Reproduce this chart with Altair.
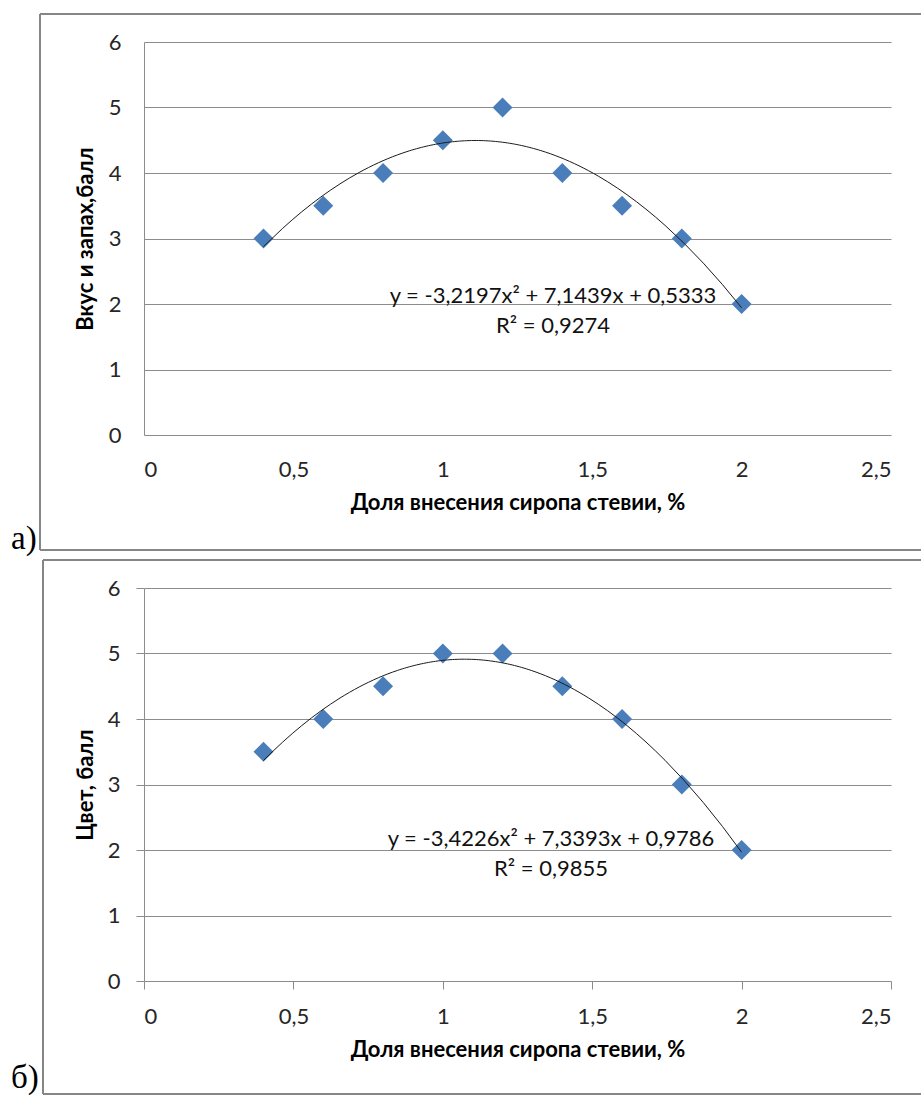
import altair as alt
import pandas as pd

# ---- data ----
X_VALUES = [0.4, 0.6, 0.8, 1.0, 1.2, 1.4, 1.6, 1.8, 2.0]
TASTE = [3, 3.5, 4, 4.5, 5, 4, 3.5, 3, 2]          # panel а)
COLOUR = [3.5, 4, 4.5, 5, 5, 4.5, 4, 3, 2]          # panel б)
X_TICKS = [0, 0.5, 1, 1.5, 2, 2.5]
Y_TICKS = [0, 1, 2, 3, 4, 5, 6]

X_TITLE = "Доля внесения сиропа стевии, %"
Y_TITLE_A = "Вкус и запах,балл"
Y_TITLE_B = "Цвет, балл"
EQ_A = "y = -3,2197x² + 7,1439x + 0,5333"
R2_A = "R² = 0,9274"
EQ_B = "y = -3,4226x² + 7,3393x + 0,9786"
R2_B = "R² = 0,9855"
LABEL_A = "а)"
LABEL_B = "б)"

BLUE = "#4A7EBB"
GRID = "#8C8C8C"
FRAME = "#868686"
FONT = "Lato"
W, H = 747, 393


def panel(yvals, ytitle, eq, r2, label, ticks, frame_left, frame_bottom,
          label_y, eq_x, eq_y):
    df = pd.DataFrame({"x": X_VALUES, "y": yvals})
    base = alt.Chart(df)
    xscale = alt.Scale(domain=[0, 2.5], nice=False, zero=False)
    yscale = alt.Scale(domain=[0, 6], nice=False)
    xaxis = alt.Axis(
        values=X_TICKS,
        labelExpr="replace(toString(datum.value), '.', ',')",
        grid=False, domain=False, ticks=ticks, tickSize=8,
        labelPadding=17 if ticks else 24,
        title=X_TITLE, titlePadding=12,
    )
    yaxis = alt.Axis(
        values=Y_TICKS, grid=True, domain=True, ticks=ticks, tickSize=8,
        labelPadding=16 if ticks else 23,
        title=ytitle, titleX=-47, titleBaseline="bottom",
    )
    pts = base.mark_point(
        shape="diamond", filled=True, size=400, color=BLUE, opacity=1
    ).encode(
        x=alt.X("x:Q", scale=xscale, axis=xaxis),
        y=alt.Y("y:Q", scale=yscale, axis=yaxis),
    )
    trend = base.transform_regression(
        "x", "y", method="poly", order=2, extent=[0.4, 2.0]
    ).mark_line(color="#1a1a1a", strokeWidth=1).encode(
        x=alt.X("x:Q", scale=xscale, axis=xaxis),
        y=alt.Y("y:Q", scale=yscale, axis=yaxis),
    )
    one = alt.Chart(alt.Data(values=[{"k": 1}]))
    eq_t = one.mark_text(
        text=eq, font=FONT, fontSize=22, color="#111", align="center",
        baseline="alphabetic",
    ).encode(x=alt.value(eq_x), y=alt.value(eq_y))
    r2_t = one.mark_text(
        text=r2, font=FONT, fontSize=22, color="#111", align="center",
        baseline="alphabetic",
    ).encode(x=alt.value(eq_x), y=alt.value(eq_y + 30))
    top = one.mark_rule(color=FRAME, strokeWidth=2).encode(
        x=alt.value(frame_left), x2=alt.value(777), y=alt.value(-28))
    bottom = one.mark_rule(color=FRAME, strokeWidth=2).encode(
        x=alt.value(frame_left), x2=alt.value(777), y=alt.value(frame_bottom))
    left = one.mark_rule(color=FRAME, strokeWidth=2).encode(
        x=alt.value(frame_left), y=alt.value(-28), y2=alt.value(frame_bottom))
    lab = one.mark_text(
        text=label, font="Liberation Serif", fontSize=33, color="#000",
        align="left", baseline="alphabetic",
    ).encode(x=alt.value(-133), y=alt.value(label_y))
    return alt.layer(pts, trend, top, bottom, left, eq_t, r2_t, lab).properties(
        width=W, height=H
    )


pa = panel(TASTE, Y_TITLE_A, EQ_A, R2_A, LABEL_A, False, -104, 508, 507, 409, 261)
pb = panel(COLOUR, Y_TITLE_B, EQ_B, R2_B, LABEL_B, True, -101, 506, 500, 407, 258)

chart = alt.vconcat(pa, pb, spacing=153, bounds="flush").properties(
    padding={"left": 11, "top": 13, "right": 0, "bottom": 0}
).configure_view(stroke=None).configure_axis(
    labelFont=FONT, labelFontSize=22, labelColor="#262626",
    titleFont=FONT, titleFontSize=22, titleFontWeight="bold", titleColor="#000",
    gridColor=GRID, domainColor=GRID, tickColor=GRID,
    gridWidth=1, domainWidth=1, tickWidth=1,
)

chart.save("out.html", embed_options={"renderer": "svg", "actions": False})
